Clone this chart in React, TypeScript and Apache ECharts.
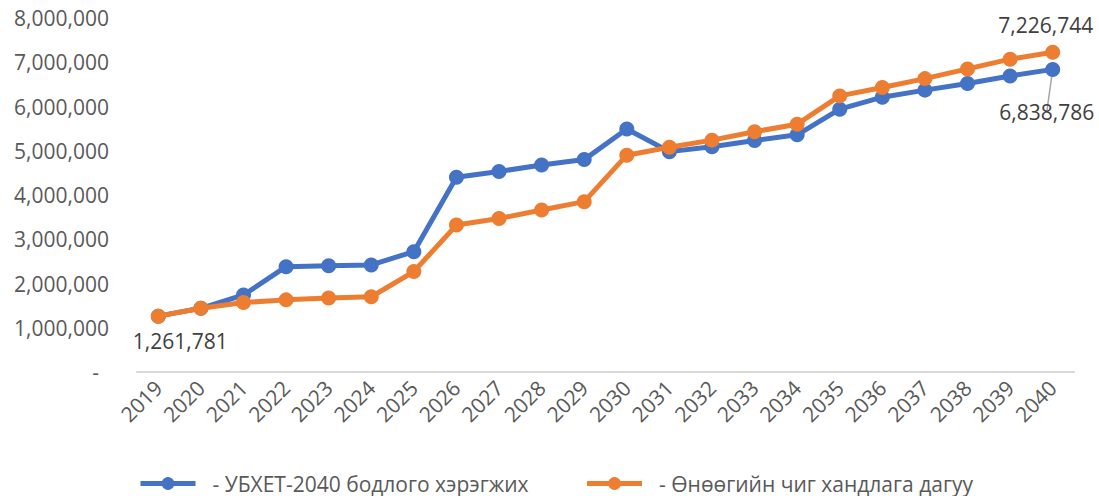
import React, { useEffect, useRef } from "react";
import * as echarts from "echarts";

const years = ["2019","2020","2021","2022","2023","2024","2025","2026","2027","2028","2029","2030","2031","2032","2033","2034","2035","2036","2037","2038","2039","2040"];
const policyName = "- УБХЕТ-2040 бодлого хэрэгжих";
const trendName = "- Өнөөгийн чиг хандлага дагуу";
const policyValues = [1261781, 1440000, 1740000, 2380000, 2400000, 2420000, 2720000, 4400000, 4530000, 4680000, 4800000, 5490000, 4980000, 5090000, 5230000, 5360000, 5940000, 6210000, 6370000, 6520000, 6690000, 6838786];
const trendValues = [1261781, 1440000, 1570000, 1630000, 1670000, 1700000, 2270000, 3320000, 3470000, 3660000, 3850000, 4900000, 5080000, 5240000, 5430000, 5600000, 6240000, 6430000, 6630000, 6850000, 7070000, 7226744];

const FONT = "'Open Sans', sans-serif";
const fmt = (v: number) => v.toLocaleString("en-US");

export default function App() {
  const ref = useRef<HTMLDivElement>(null);
  useEffect(() => {
    const chart = echarts.init(ref.current!, null, { renderer: "svg" });
    const last = years.length - 1;
    const labelStyle = { color: "#404040", fontSize: 21, fontFamily: FONT };
    chart.setOption({
      animation: false,
      textStyle: { fontFamily: FONT },
      grid: { left: 137, right: 25, top: 18, bottom: 124, containLabel: false },
      legend: {
        top: 468,
        left: 133,
        itemWidth: 55,
        itemHeight: 16,
        itemGap: 56,
        lineStyle: { width: 5 },
        textStyle: { color: "#595959", fontSize: 21, fontFamily: FONT, padding: [0, 0, 0, 12] },
        data: [policyName, trendName],
      },
      xAxis: {
        type: "category",
        data: years,
        boundaryGap: true,
        axisLine: { lineStyle: { color: "#d9d9d9", width: 2 } },
        axisTick: { show: false },
        axisLabel: { rotate: 45, margin: 12, color: "#595959", fontSize: 21, fontFamily: FONT, interval: 0 },
      },
      yAxis: {
        type: "value",
        min: 0,
        max: 8000000,
        interval: 1000000,
        splitLine: { show: false },
        axisLine: { show: false },
        axisTick: { show: false },
        axisLabel: {
          margin: 28,
          color: "#595959",
          fontSize: 21,
          fontFamily: FONT,
          formatter: (v: number) => (v === 0 ? "{d|-}" : fmt(v)),
          rich: { d: { color: "#595959", fontSize: 21, fontFamily: FONT, padding: [0, 10, 0, 0] } },
        },
      },
      series: [
        {
          name: policyName,
          type: "line",
          z: 2,
          data: policyValues.map((v, i) => {
            if (i === 0) {
              return { value: v, label: { show: true, position: "bottom", offset: [22, 2], formatter: () => fmt(v), ...labelStyle } };
            }
            if (i === last) {
              return {
                value: v,
                label: { show: true, position: "bottom", offset: [-6, 20], formatter: () => fmt(v), ...labelStyle },
                labelLine: { show: true, lineStyle: { color: "#a6a6a6", width: 1.5 } },
              };
            }
            return v;
          }),
          symbol: "circle",
          symbolSize: 15,
          lineStyle: { width: 5, color: "#4472C4" },
          itemStyle: { color: "#4472C4" },
        },
        {
          name: trendName,
          type: "line",
          z: 3,
          data: trendValues.map((v, i) => {
            if (i === last) {
              return { value: v, label: { show: true, position: "top", offset: [-7, -4], formatter: () => fmt(v), ...labelStyle } };
            }
            return v;
          }),
          symbol: "circle",
          symbolSize: 15,
          lineStyle: { width: 5, color: "#ED7D31" },
          itemStyle: { color: "#ED7D31" },
        },
      ],
    });
    return () => chart.dispose();
  }, []);
  return <div ref={ref} style={{ width: 1099, height: 496, position: "absolute", left: 0, top: 0 }} />;
}
